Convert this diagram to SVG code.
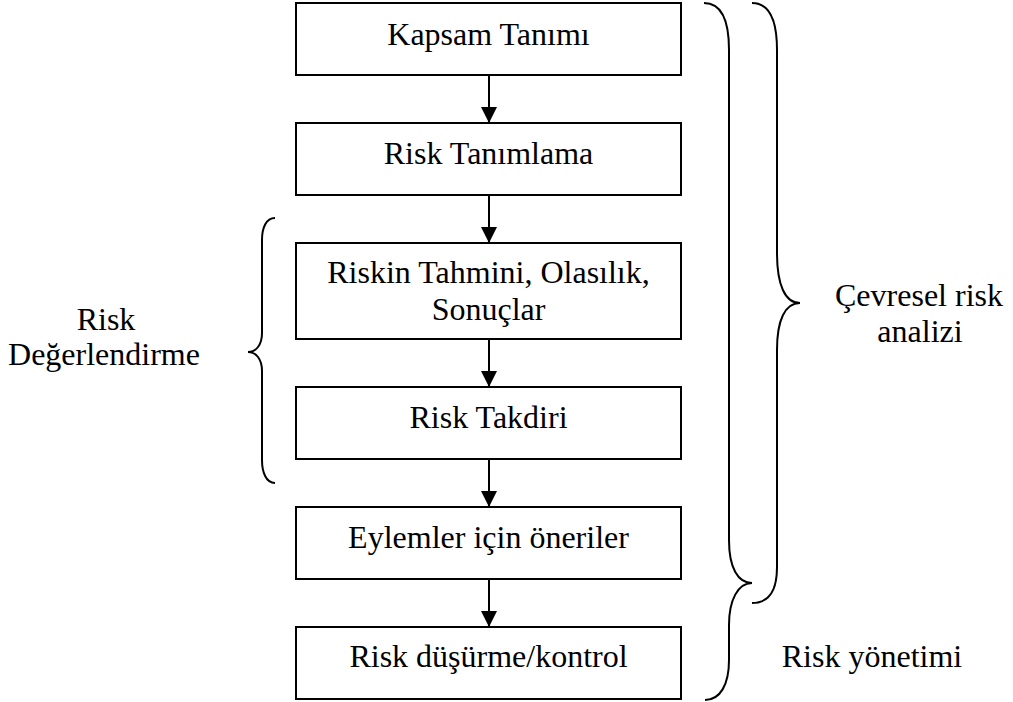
<svg xmlns="http://www.w3.org/2000/svg" width="1013" height="702" viewBox="0 0 1013 702">
  <defs>
    <style>
      .box { fill: #ffffff; stroke: #000000; stroke-width: 2; }
      .lbl { font-family: "Liberation Serif", "Times New Roman", serif; font-size: 32px; fill: #000000; text-anchor: middle; }
      .conn { stroke: #000000; stroke-width: 2; fill: none; }
      .brace { stroke: #000000; stroke-width: 2; fill: none; }
    </style>
    <marker id="arrow" markerWidth="16" markerHeight="16" refX="16" refY="8" orient="auto" markerUnits="userSpaceOnUse">
      <path d="M0,0 L16,8 L0,16 Z" fill="#000000"/>
    </marker>
  </defs>
  <rect width="1013" height="702" fill="#ffffff"/>

  <!-- process steps -->
  <g id="kapsam">
    <rect class="box" x="296" y="3" width="385" height="72"/>
    <text class="lbl" x="488.5" y="45">Kapsam Tanımı</text>
  </g>
  <g id="tanimlama">
    <rect class="box" x="296" y="123" width="385" height="72"/>
    <text class="lbl" x="488.5" y="164">Risk Tanımlama</text>
  </g>
  <g id="tahmin">
    <rect class="box" x="296" y="243" width="385" height="96"/>
    <text class="lbl" x="488.5" y="283">Riskin Tahmini, Olasılık,</text>
    <text class="lbl" x="488.5" y="320">Sonuçlar</text>
  </g>
  <g id="takdir">
    <rect class="box" x="296" y="387" width="385" height="72"/>
    <text class="lbl" x="488.5" y="428">Risk Takdiri</text>
  </g>
  <g id="oneriler">
    <rect class="box" x="296" y="507" width="385" height="72"/>
    <text class="lbl" x="488.5" y="548">Eylemler için öneriler</text>
  </g>
  <g id="kontrol">
    <rect class="box" x="296" y="627" width="385" height="72"/>
    <text class="lbl" x="488.5" y="667">Risk düşürme/kontrol</text>
  </g>

  <!-- flow arrows -->
  <g id="connectors">
    <line class="conn" x1="489" y1="75" x2="489" y2="123" marker-end="url(#arrow)"/>
    <line class="conn" x1="489" y1="195" x2="489" y2="243" marker-end="url(#arrow)"/>
    <line class="conn" x1="489" y1="339" x2="489" y2="387" marker-end="url(#arrow)"/>
    <line class="conn" x1="489" y1="459" x2="489" y2="507" marker-end="url(#arrow)"/>
    <line class="conn" x1="489" y1="579" x2="489" y2="627" marker-end="url(#arrow)"/>
  </g>

  <!-- grouping braces and their labels -->
  <g id="degerlendirme">
    <path class="brace" d="M275,218 C266,218 262,228 262,240 L262,333 C262,345 256,352 248,352 C256,352 262,359 262,371 L262,460 C262,472 266,483 275,483"/>
    <text class="lbl" x="106" y="330">Risk</text>
    <text class="lbl" x="104" y="365">Değerlendirme</text>
  </g>
  <g id="yonetim">
    <path class="brace" d="M704,3 C722,3 729,20 729,50 L729,540 C729,568 738,583 752,583 C738,583 729,600 729,625 L729,660 C729,685 720,700 705,700"/>
    <text class="lbl" x="872" y="667">Risk yönetimi</text>
  </g>
  <g id="cevresel">
    <path class="brace" stroke-width="2.5" d="M752,3 C770,3 777,20 777,50 L777,253 C777,285 785,303 800,303 C785,303 777,320 777,350 L777,567 C777,590 770,603 752,603"/>
    <text class="lbl" x="919" y="306">Çevresel risk</text>
    <text class="lbl" x="920" y="342">analizi</text>
  </g>
</svg>
